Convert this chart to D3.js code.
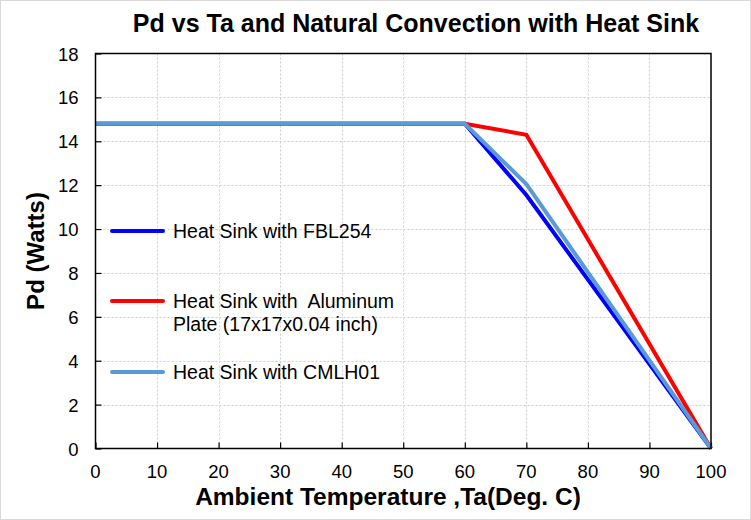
<!DOCTYPE html>
<html>
<head>
<meta charset="utf-8">
<script src="https://cdn.jsdelivr.net/npm/d3@7"></script>
<style>
  body { margin: 0; background: #fff; }
  text { font-family: Arial, "Liberation Sans", sans-serif; fill: #000; }
</style>
</head>
<body>
<div id="chart"></div>
<script>
'use strict';

// chart data
var temps = [0, 60, 70, 100];
var fbl254 = [14.8, 14.8, 11.55, 0];
var aluminum = [14.8, 14.8, 14.3, 0];
var cmlh01 = [14.8, 14.8, 12.05, 0];
var xTicks = [0, 10, 20, 30, 40, 50, 60, 70, 80, 90, 100];
var yTicks = [0, 2, 4, 6, 8, 10, 12, 14, 16, 18];

var seriesNames = ["Heat Sink with FBL254", "Heat Sink with  Aluminum|Plate (17x17x0.04 inch)", "Heat Sink with CMLH01"];
var seriesColors = ["#0000ff", "#ff0000", "#5b9bd5"];

var width = 751, height = 520;
var margin = {top: 53.5, right: 40, bottom: 71.5, left: 95.5};

var svg = d3.select("#chart").append("svg")
    .attr("width", width)
    .attr("height", height);

// outer frame
svg.append("rect")
    .attr("x", 0.5).attr("y", 0.5)
    .attr("width", width - 1).attr("height", height - 1)
    .attr("fill", "#fff")
    .attr("stroke", "#d9d9d9");

var x = d3.scaleLinear().domain([0, 100]).range([margin.left, width - margin.right]);
var y = d3.scaleLinear().domain([0, 18]).range([height - margin.bottom, margin.top]);

//gridlines
var grid = svg.append("g");
grid.selectAll(".vgrid")
    .data(xTicks.slice(1, -1))
    .enter().append("line")
    .attr("x1", function (d) { return Math.round(x(d)) + 0.5; })
    .attr("x2", function (d) { return Math.round(x(d)) + 0.5; })
    .attr("y1", y(18)).attr("y2", y(0))
    .attr("stroke", "#cfcfcf")
    .attr("stroke-dasharray", "2,2");
grid.selectAll(".hgrid")
    .data(yTicks.slice(1, -1))
    .enter().append("line")
    .attr("y1", function (d) { return Math.round(y(d)) + 0.5; })
    .attr("y2", function (d) { return Math.round(y(d)) + 0.5; })
    .attr("x1", x(0)).attr("x2", x(100))
    .attr("stroke", "#cfcfcf")
    .attr("stroke-dasharray", "2,2");

// axes, ticks pointing inward
var xAxis = svg.append("g")
    .attr("transform", "translate(0," + y(0) + ")")
    .call(d3.axisTop(x).tickValues(xTicks).tickSize(6).tickFormat(""));
var yAxis = svg.append("g")
    .attr("transform", "translate(" + x(0) + ",0)")
    .call(d3.axisRight(y).tickValues(yTicks).tickSize(6).tickFormat(""));
[xAxis, yAxis].forEach(function (a) {
    a.select(".domain").remove();
    a.selectAll("line").attr("stroke", "#000").attr("stroke-width", 1.2);
});

// tick labels
svg.append("g").selectAll("text")
    .data(xTicks)
    .enter().append("text")
    .attr("x", function (d) { return x(d); })
    .attr("y", y(0) + 29)
    .attr("text-anchor", "middle")
    .style("font-size", "18.5px")
    .text(function (d) { return d; });
svg.append("g").selectAll("text")
    .data(yTicks)
    .enter().append("text")
    .attr("x", x(0) - 17)
    .attr("y", function (d) { return y(d) + 7; })
    .attr("text-anchor", "end")
    .style("font-size", "18.5px")
    .text(function (d) { return d; });

// lines
var line = d3.line()
    .x(function (d) { return x(d[0]); })
    .y(function (d) { return y(d[1]); });

[fbl254, aluminum, cmlh01].forEach(function (vals, i) {
    svg.append("path")
        .datum(temps.map(function (t, j) { return [t, vals[j]]; }))
        .attr("d", line)
        .attr("fill", "none")
        .attr("stroke", seriesColors[i])
        .attr("stroke-width", 4)
        .attr("stroke-linejoin", "miter");
});

// plot frame
svg.append("rect")
    .attr("x", x(0)).attr("y", y(18))
    .attr("width", x(100) - x(0)).attr("height", y(0) - y(18))
    .attr("fill", "none")
    .attr("stroke", "#000")
    .attr("stroke-width", 1.5);

// legend
var legendY = [231, 301, 372];
var legend = svg.append("g");
seriesNames.forEach(function (name, i) {
    legend.append("line")
        .attr("x1", 112).attr("x2", 163)
        .attr("y1", legendY[i]).attr("y2", legendY[i])
        .attr("stroke", seriesColors[i])
        .attr("stroke-width", 4)
        .attr("stroke-linecap", "round");
    name.split("|").forEach(function (part, k) {
        legend.append("text")
            .attr("x", 173)
            .attr("y", legendY[i] + 7 + k * 23)
            .style("font-size", "19.5px")
            .style("white-space", "pre")
            .attr("xml:space", "preserve")
            .text(part);
    });
});

// titles
svg.append("text")
    .attr("x", 416).attr("y", 32)
    .attr("text-anchor", "middle")
    .style("font-size", "25px").style("font-weight", "bold")
    .text("Pd vs Ta and Natural Convection with Heat Sink");
svg.append("text")
    .attr("x", 388).attr("y", 505)
    .attr("text-anchor", "middle")
    .style("font-size", "24.5px").style("font-weight", "bold")
    .text("Ambient Temperature ,Ta(Deg. C)");
svg.append("text")
    .attr("transform", "translate(44," + ((y(0) + y(18)) / 2) + ") rotate(-90)")
    .attr("text-anchor", "middle")
    .style("font-size", "24px").style("font-weight", "bold")
    .text("Pd (Watts)");
</script>
</body>
</html>
